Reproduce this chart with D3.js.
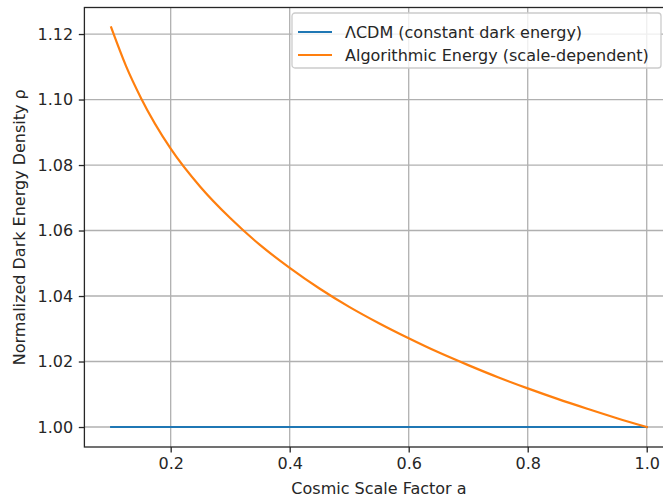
<!DOCTYPE html>
<html>
<head>
<meta charset="utf-8">
<script src="https://cdn.jsdelivr.net/npm/d3@7"></script>
<style>
  html, body { margin: 0; padding: 0; background: #fff; }
  #chart { width: 663px; height: 501px; overflow: hidden; }
  text { font-family: "DejaVu Sans", sans-serif; fill: #262626; }
</style>
</head>
<body>
<div id="chart"></div>
<script>
const scaleFactor = [0.10, 0.125, 0.15, 0.20, 0.25, 0.30, 0.35, 0.40, 0.45, 0.50, 0.55,
  0.60, 0.65, 0.70, 0.75, 0.80, 0.85, 0.90, 0.95, 1.00];
const lcdmDensity = [1, 1, 1, 1, 1, 1, 1, 1, 1, 1, 1, 1, 1, 1, 1, 1, 1, 1, 1, 1];
const algoDensity = [1.1220, 1.1102, 1.1005, 1.0850, 1.0733, 1.0638, 1.0556, 1.0486, 1.0423,
  1.0367, 1.0317, 1.0271, 1.0228, 1.0189, 1.0152, 1.0118, 1.0086, 1.0056, 1.0027, 1.0000];
const xTicks = [0.2, 0.4, 0.6, 0.8, 1.0];
const yTicks = [1.00, 1.02, 1.04, 1.06, 1.08, 1.10, 1.12];
const seriesNames = ["\u039BCDM (constant dark energy)", "Algorithmic Energy (scale-dependent)"];
const seriesColors = ["#1f77b4", "#ff7f0e"];

function drawChart(width, height) {
  const margin = { top: 7.5, right: -10.5, bottom: 54, left: 84.4 };
  const innerWidth = width - margin.left - margin.right;
  const innerHeight = height - margin.top - margin.bottom;
  const fontSize = 16;

  const svg = d3.select("#chart")
    .append("svg")
    .attr("width", width)
    .attr("height", height)
    .append("g")
    .attr("transform", `translate(${margin.left},${margin.top})`);

  const xScale = d3.scaleLinear()
    .domain([0.055, 1.045])
    .range([0, innerWidth]);

  const yScale = d3.scaleLinear()
    .domain([0.9939, 1.1281])
    .range([innerHeight, 0]);

  // grid
  svg.append("g")
    .selectAll(".vgrid")
    .data(xTicks)
    .enter()
    .append("line")
    .attr("x1", d => xScale(d))
    .attr("x2", d => xScale(d))
    .attr("y1", 0)
    .attr("y2", innerHeight)
    .attr("stroke", "#b0b0b0")
    .attr("stroke-width", 1.3);

  svg.append("g")
    .selectAll(".hgrid")
    .data(yTicks)
    .enter()
    .append("line")
    .attr("x1", 0)
    .attr("x2", innerWidth)
    .attr("y1", d => yScale(d))
    .attr("y2", d => yScale(d))
    .attr("stroke", "#b0b0b0")
    .attr("stroke-width", 1.3);

  // lines
  const series = [lcdmDensity, algoDensity];
  const line = d3.line()
    .x((d, i) => xScale(scaleFactor[i]))
    .y(d => yScale(d))
    .curve(d3.curveMonotoneX);

  series.forEach((values, k) => {
    svg.append("path")
      .datum(values)
      .attr("fill", "none")
      .attr("stroke", seriesColors[k])
      .attr("stroke-width", 2.2)
      .attr("stroke-linecap", "square")
      .attr("d", line);
  });

  // axes
  const xAxis = d3.axisBottom(xScale)
    .tickValues(xTicks)
    .tickFormat(d3.format(".1f"))
    .tickSize(5.6)
    .tickPadding(5);

  const yAxis = d3.axisLeft(yScale)
    .tickValues(yTicks)
    .tickFormat(d3.format(".2f"))
    .tickSize(5.6)
    .tickPadding(5.6);

  const gx = svg.append("g")
    .attr("transform", `translate(0,${innerHeight})`)
    .call(xAxis);
  gx.select(".domain").remove();
  gx.selectAll(".tick line").attr("stroke", "#262626").attr("stroke-width", 1.3);
  gx.selectAll(".tick text")
    .style("font-family", "DejaVu Sans, sans-serif")
    .style("font-size", fontSize + "px")
    .attr("fill", "#262626");

  const gy = svg.append("g").call(yAxis);
  gy.select(".domain").remove();
  gy.selectAll(".tick line").attr("stroke", "#262626").attr("stroke-width", 1.3);
  gy.selectAll(".tick text")
    .style("font-family", "DejaVu Sans, sans-serif")
    .style("font-size", fontSize + "px")
    .attr("fill", "#262626");

  // spines
  svg.append("rect")
    .attr("x", 0)
    .attr("y", 0)
    .attr("width", innerWidth)
    .attr("height", innerHeight)
    .attr("fill", "none")
    .attr("stroke", "#262626")
    .attr("stroke-width", 1.3);

  // axis labels
  svg.append("text")
    .attr("x", innerWidth / 2)
    .attr("y", innerHeight + 47)
    .attr("text-anchor", "middle")
    .style("font-size", fontSize + "px")
    .text("Cosmic Scale Factor a");

  svg.append("text")
    .attr("transform", "rotate(-90)")
    .attr("x", -innerHeight / 2)
    .attr("y", -margin.left + 25)
    .attr("text-anchor", "middle")
    .style("font-size", fontSize + "px")
    .text("Normalized Dark Energy Density \u03C1");

  // legend
  const legend = svg.append("g")
    .attr("transform", `translate(${292 - margin.left},${13 - margin.top})`);

  legend.append("rect")
    .attr("width", 369)
    .attr("height", 55)
    .attr("rx", 3)
    .attr("fill", "rgba(255,255,255,0.8)")
    .attr("stroke", "#cccccc")
    .attr("stroke-width", 1.3);

  seriesNames.forEach((name, k) => {
    const cy = 19 + k * 23;
    legend.append("line")
      .attr("x1", 6)
      .attr("x2", 40)
      .attr("y1", cy)
      .attr("y2", cy)
      .attr("stroke", seriesColors[k])
      .attr("stroke-width", 2.2);
    legend.append("text")
      .attr("x", 53)
      .attr("y", cy)
      .attr("dy", "0.36em")
      .style("font-size", fontSize + "px")
      .text(name);
  });
}

drawChart(663, 501);
</script>
</body>
</html>
